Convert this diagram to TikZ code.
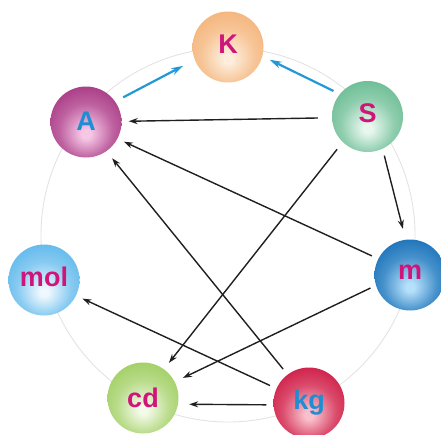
\documentclass[tikz,border=0pt]{standalone}
\usepackage{fontspec}
\setmainfont{Liberation Sans}
\usetikzlibrary{arrows.meta}
\definecolor{magtext}{HTML}{D0157A}
\definecolor{bluetext}{HTML}{1E8ED3}
\definecolor{bluearrow}{HTML}{2299D6}
\colorlet{ballin}{white}
\colorlet{ballmid}{gray!50}
\colorlet{ballout}{gray}
\colorlet{ballrim}{black}
\pgfdeclareradialshading[ballin,ballmid,ballout,ballrim]{myball}{\pgfpoint{0bp}{-9bp}}{color(0bp)=(ballin); color(3bp)=(ballin); color(19bp)=(ballmid); color(36bp)=(ballout); color(58bp)=(ballrim)}
\tikzset{
  ball/.style n args={3}{circle, minimum size=71pt, inner sep=0pt,
    /utils/exec={\colorlet{ballin}{#1}\colorlet{ballmid}{#1!35!#2}\colorlet{ballout}{#2}\colorlet{ballrim}{#2!85!black}},
    shade, shading=myball, text=#3,
    font=\fontsize{27}{27}\selectfont\bfseries},
  blk/.style={-{Stealth[length=9pt,width=6pt]}, line width=1.4pt, black!88},
  bluearr/.style={-{Stealth[length=12pt,width=7pt]}, line width=2.2pt, bluearrow},
  ring/.style={draw=gray!22, line width=0.9pt}
}
\begin{document}
\begin{tikzpicture}[x=1pt,y=-1pt]
\useasboundingbox (0,0) rectangle (441,434);
\coordinate (ctr) at (228,235);
\draw[ring] (ctr) circle[radius=187];
\definecolor{cK}{HTML}{F3AE70}\definecolor{iK}{HTML}{FDEEDD}
\definecolor{cA}{HTML}{A02A7A}\definecolor{iA}{HTML}{F6C8E6}
\definecolor{cS}{HTML}{5DB68A}\definecolor{iS}{HTML}{E8F7EE}
\definecolor{cm}{HTML}{0A66B2}\definecolor{im}{HTML}{B5E0FA}
\definecolor{cmol}{HTML}{50B2EA}\definecolor{imol}{HTML}{EEF8FE}
\definecolor{ccd}{HTML}{98CA55}\definecolor{icd}{HTML}{F3FAE8}
\definecolor{ckg}{HTML}{CA0C38}\definecolor{ikg}{HTML}{F9C0CC}
\node[ball={iK}{cK}{magtext}] (K) at (228,47) {\raisebox{5pt}{K}};
\node[ball={iA}{cA}{bluetext}] (A) at (86,122) {\raisebox{2pt}{A}};
\node[ball={iS}{cS}{magtext}] (S) at (367.5,116.5) {\raisebox{7pt}{S}};
\node[ball={im}{cm}{magtext}] (m) at (410,275) {\raisebox{6pt}{m}};
\node[ball={imol}{cmol}{magtext}] (mol) at (44,280) {\raisebox{6pt}{mol}};
\node[ball={icd}{ccd}{magtext}] (cd) at (143,398) {cd};
\node[ball={ikg}{ckg}{bluetext}] (kg) at (309,403) {kg};
% blue arrows
\draw[bluearr, shorten <=9pt, shorten >=13pt] (A.35) -- (K.201);
\draw[bluearr, shorten <=7pt, shorten >=8pt] (S.141) -- (K.345);
% black arrows
\draw[blk, shorten <=14pt, shorten >=7pt] (S.182) -- (A.1);
\draw[blk, shorten <=7pt, shorten >=11pt] (S.295) -- (m.97);
\draw[blk, shorten <=9pt, shorten >=8pt] (S.226) -- (cd.54);
\draw[blk, shorten <=7pt, shorten >=7pt] (m.153) -- (A.332);
\draw[blk, shorten <=6pt, shorten >=9pt] (m.197) -- (cd.27);
\draw[blk, shorten <=7pt, shorten >=9pt] (kg.127) -- (A.305);
\draw[blk, shorten <=7pt, shorten >=7pt] (kg.156) -- (mol.334);
\draw[blk, shorten <=7pt, shorten >=11pt] (kg.183) -- (cd.350);
\end{tikzpicture}
\end{document}
